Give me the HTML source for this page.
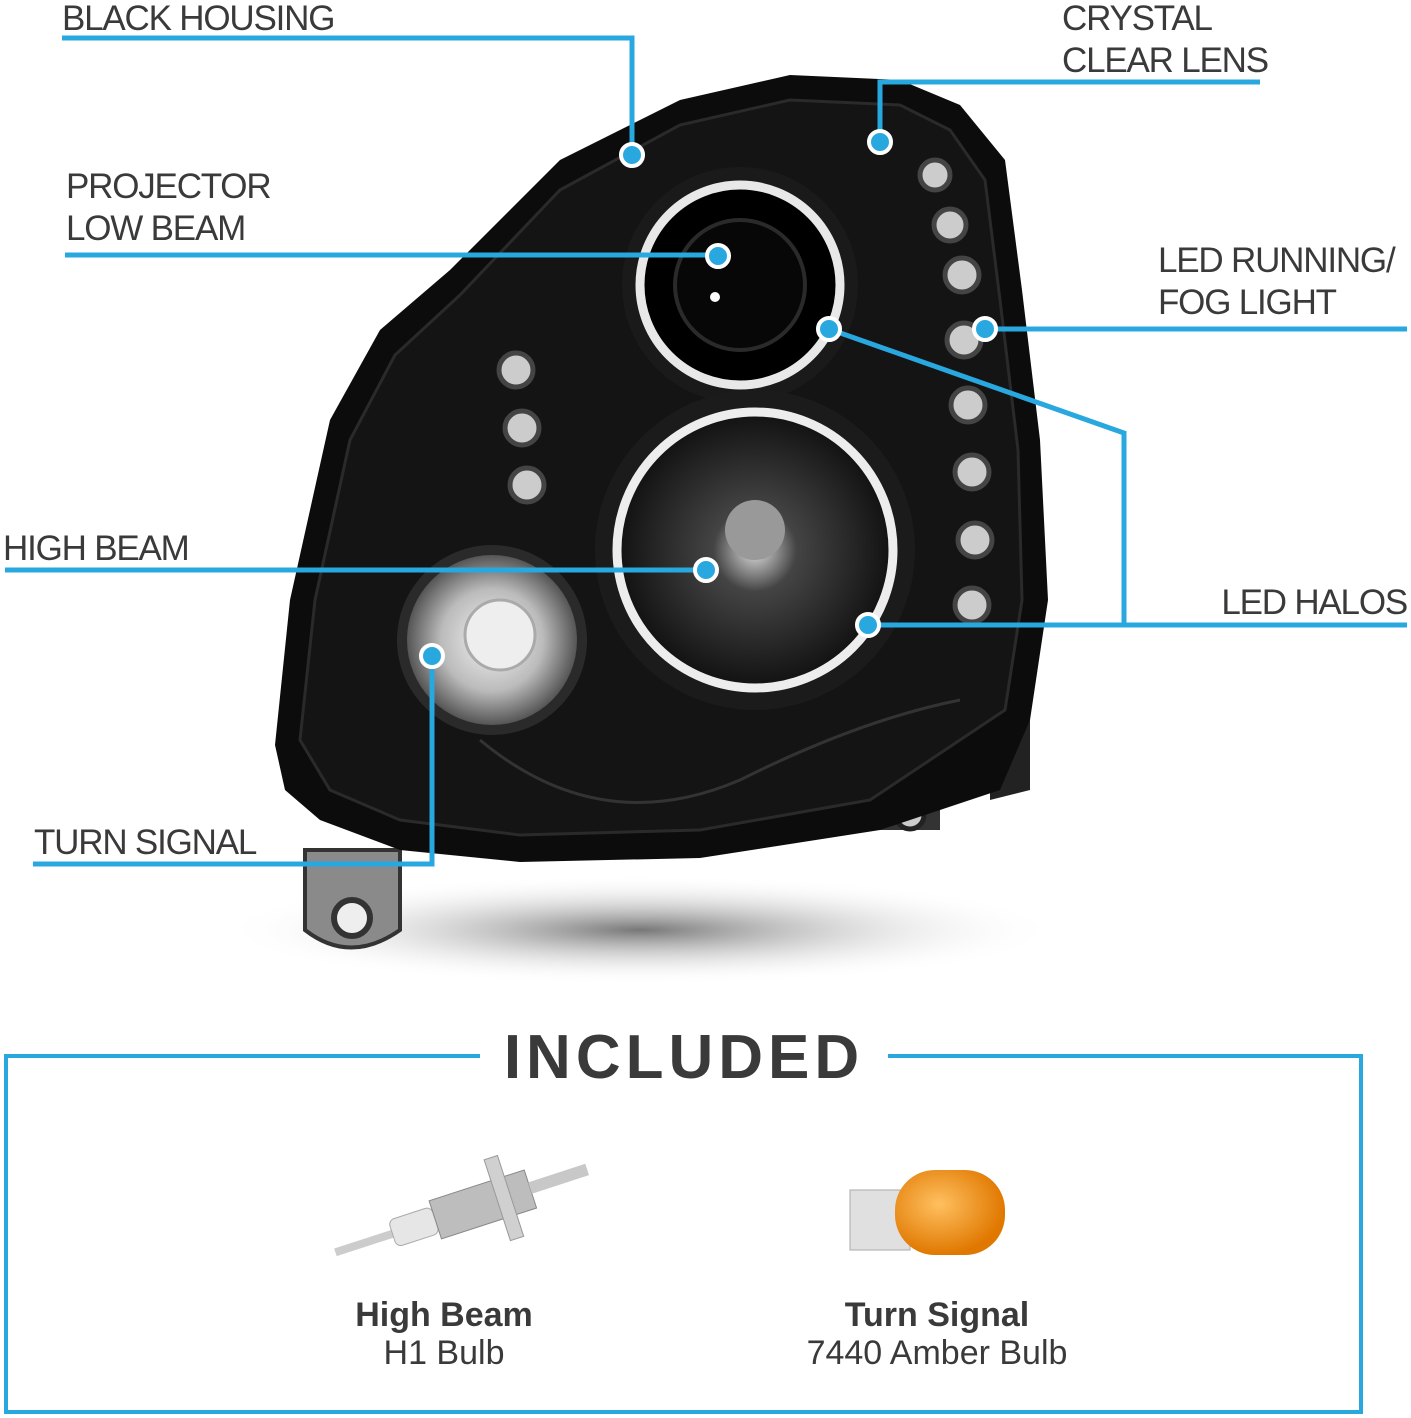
<!DOCTYPE html>
<html><head><meta charset="utf-8"><style>
html,body{margin:0;padding:0;background:#fff}
body{width:1411px;height:1418px;overflow:hidden;position:relative}
svg{position:absolute;left:0;top:0}
.l{font-family:"Liberation Sans",sans-serif;font-size:35px;fill:#3a3a3a;letter-spacing:-1.2px}
</style></head><body>
<svg width="1411" height="1418" viewBox="0 0 1411 1418">
<defs>
<radialGradient id="sh" cx="50%" cy="50%" r="50%"><stop offset="0" stop-color="#777"/><stop offset="1" stop-color="#fff" stop-opacity="0"/></radialGradient>
<radialGradient id="ts" cx="50%" cy="50%" r="50%"><stop offset="0" stop-color="#f4f4f4"/><stop offset="0.6" stop-color="#bbb"/><stop offset="1" stop-color="#555"/></radialGradient>
<radialGradient id="hb" cx="50%" cy="50%" r="50%"><stop offset="0" stop-color="#ddd"/><stop offset="0.3" stop-color="#444"/><stop offset="1" stop-color="#111"/></radialGradient>
<radialGradient id="amb" cx="40%" cy="40%" r="60%"><stop offset="0" stop-color="#ffc060"/><stop offset="1" stop-color="#e07800"/></radialGradient>
</defs>
<ellipse cx="640" cy="930" rx="420" ry="55" fill="url(#sh)"/>
<path d="M305 850 L400 850 L400 930 Q350 965 305 930 Z" fill="#8a8a8a" stroke="#333" stroke-width="4"/>
<circle cx="352" cy="918" r="18" fill="#eee" stroke="#333" stroke-width="6"/>
<path d="M880 780 L940 780 L940 830 L880 830 Z" fill="#333"/>
<circle cx="910" cy="815" r="14" fill="#ccc" stroke="#222" stroke-width="5"/>
<path d="M990 710 L1030 715 L1030 790 L990 800 Z" fill="#222"/>
<path d="M275 745 L290 600 L330 420 L380 330 L450 270 L560 160 L680 100 L790 75 L900 80 L960 105 L1005 160 L1022 290 L1040 440 L1048 600 L1030 720 L1000 790 L880 830 L700 858 L520 862 L400 850 L320 820 L285 790 Z" fill="#0c0c0c"/>
<path d="M300 740 L315 600 L350 440 L395 355 L460 295 L560 190 L680 125 L790 100 L900 105 L950 130 L985 180 L1000 300 L1018 450 L1022 600 L1005 710 L870 800 L700 830 L520 835 L400 820 L330 790 Z" fill="#141414" stroke="#2a2a2a" stroke-width="3"/>
<path d="M480 740 Q600 840 740 780 Q860 720 960 700" fill="none" stroke="#333" stroke-width="3"/>
<circle cx="740" cy="285" r="118" fill="#1a1a1a"/>
<circle cx="740" cy="285" r="100" fill="#000" stroke="#e8e8e8" stroke-width="9"/>
<circle cx="740" cy="285" r="65" fill="#070707" stroke="#2a2a2a" stroke-width="4"/>
<circle cx="715" cy="297" r="5" fill="#fff"/>
<circle cx="755" cy="550" r="160" fill="#1b1b1b"/>
<circle cx="755" cy="550" r="138" fill="url(#hb)" stroke="#ededed" stroke-width="9"/>
<circle cx="755" cy="530" r="30" fill="#999"/>
<circle cx="492" cy="640" r="95" fill="#2a2a2a"/>
<circle cx="492" cy="640" r="85" fill="url(#ts)"/>
<circle cx="500" cy="635" r="35" fill="#eee" stroke="#aaa" stroke-width="3"/>
<g fill="#ccc" stroke="#444" stroke-width="5">
<circle cx="516" cy="370" r="17"/><circle cx="522" cy="428" r="17"/><circle cx="527" cy="485" r="17"/>
<circle cx="935" cy="175" r="15"/><circle cx="950" cy="225" r="16"/><circle cx="962" cy="275" r="17"/><circle cx="964" cy="340" r="17"/><circle cx="968" cy="405" r="17"/><circle cx="972" cy="472" r="17"/><circle cx="975" cy="540" r="17"/><circle cx="972" cy="605" r="17"/>
</g>
<g stroke="#29a8e0" stroke-width="5" fill="none">
<polyline points="62,38 632,38 632,155"/>
<polyline points="1260,82 880,82 880,142"/>
<line x1="65" y1="255" x2="718" y2="255"/>
<line x1="985" y1="329" x2="1407" y2="329"/>
<polyline points="829,329 1124,433 1124,625"/>
<line x1="868" y1="625" x2="1407" y2="625"/>
<line x1="5" y1="570" x2="706" y2="570"/>
<polyline points="432,656 432,864 33,864"/>
</g>
<g fill="#29a8e0" stroke="#fff" stroke-width="4">
<circle cx="632" cy="155" r="11"/><circle cx="880" cy="142" r="11"/><circle cx="718" cy="256" r="11"/>
<circle cx="985" cy="329" r="11"/><circle cx="829" cy="329" r="11"/><circle cx="868" cy="625" r="11"/>
<circle cx="706" cy="570" r="11"/><circle cx="432" cy="656" r="11"/>
</g>
<text class="l" x="62" y="30">BLACK HOUSING</text>
<text class="l" x="1062" y="30">CRYSTAL</text>
<text class="l" x="1062" y="72">CLEAR LENS</text>
<text class="l" x="66" y="198">PROJECTOR</text>
<text class="l" x="66" y="240">LOW BEAM</text>
<text class="l" x="1158" y="272">LED RUNNING/</text>
<text class="l" x="1158" y="314">FOG LIGHT</text>
<text class="l" x="3" y="560">HIGH BEAM</text>
<text class="l" x="1407" y="614" text-anchor="end">LED HALOS</text>
<text class="l" x="34" y="854">TURN SIGNAL</text>
<polyline points="480,1056 6,1056 6,1412 1361,1412 1361,1056 888,1056" fill="none" stroke="#29a8e0" stroke-width="4"/>
<text x="684" y="1078" text-anchor="middle" font-family="Liberation Sans,sans-serif" font-weight="bold" font-size="62" fill="#3a3a3a" letter-spacing="5">INCLUDED</text>
<g transform="rotate(-18 460 1215)">
<rect x="330" y="1208" width="60" height="8" fill="#ccc"/>
<rect x="390" y="1198" width="45" height="28" rx="6" fill="#e6e6e6" stroke="#aaa"/>
<rect x="435" y="1192" width="100" height="40" fill="#bdbdbd" stroke="#888"/>
<rect x="500" y="1170" width="14" height="85" fill="#d0d0d0" stroke="#999"/>
<rect x="535" y="1205" width="60" height="12" fill="#c8c8c8"/>
</g>
<rect x="850" y="1190" width="60" height="60" fill="#e0e0e0" stroke="#aaa"/>
<rect x="895" y="1170" width="110" height="85" rx="40" fill="url(#amb)"/>
<text x="444" y="1326" text-anchor="middle" font-family="Liberation Sans,sans-serif" font-weight="bold" font-size="34" fill="#3a3a3a">High Beam</text>
<text x="444" y="1364" text-anchor="middle" font-family="Liberation Sans,sans-serif" font-size="34" fill="#3a3a3a">H1 Bulb</text>
<text x="937" y="1326" text-anchor="middle" font-family="Liberation Sans,sans-serif" font-weight="bold" font-size="34" fill="#3a3a3a">Turn Signal</text>
<text x="937" y="1364" text-anchor="middle" font-family="Liberation Sans,sans-serif" font-size="34" fill="#3a3a3a">7440 Amber Bulb</text>
</svg>
</body></html>
